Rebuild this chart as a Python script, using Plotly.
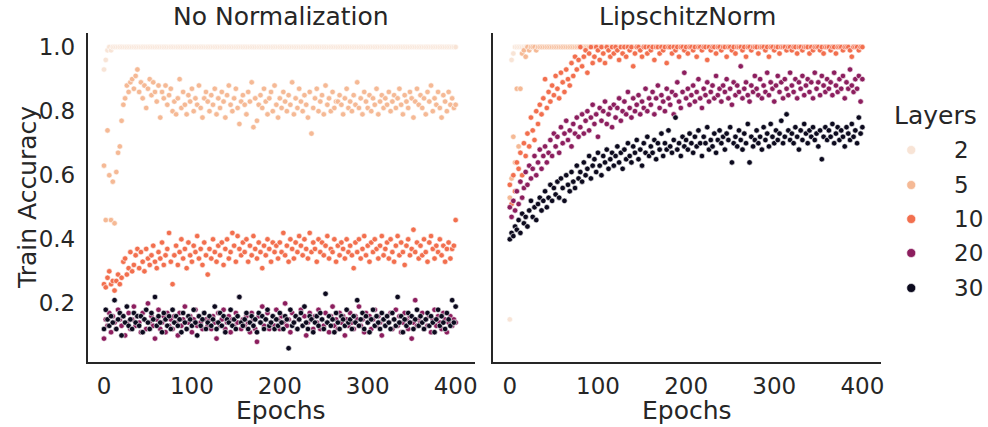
import plotly.graph_objects as go

# ---------------- data ----------------
epochs = list(range(0, 401, 2))
layers = [2, 5, 10, 20, 30]
layer_labels = ["2", "5", "10", "20", "30"]
panel_titles = ["No Normalization", "LipschitzNorm"]
x_ticks = [0, 100, 200, 300, 400]
y_ticks = [0.2, 0.4, 0.6, 0.8, 1.0]
y_tick_labels = ["0.2", "0.4", "0.6", "0.8", "1.0"]
colors = ["#f8e4d6", "#f5b995", "#f26f4e", "#8c1e5e", "#0c0a1e"]

nonorm_L2 = [
    0.93, 0.96, 0.99, 1.0, 0.99, 1.0, 1.0, 1.0, 1.0, 1.0, 1.0, 1.0, 1.0, 1.0, 1.0, 1.0, 1.0, 1.0, 1.0, 1.0,
    1.0, 1.0, 1.0, 1.0, 1.0, 1.0, 1.0, 1.0, 1.0, 1.0, 1.0, 1.0, 1.0, 1.0, 1.0, 1.0, 1.0, 1.0, 1.0, 1.0,
    1.0, 1.0, 1.0, 1.0, 1.0, 1.0, 1.0, 1.0, 1.0, 1.0, 1.0, 1.0, 1.0, 1.0, 1.0, 1.0, 1.0, 1.0, 1.0, 1.0,
    1.0, 1.0, 1.0, 1.0, 1.0, 1.0, 1.0, 1.0, 1.0, 1.0, 1.0, 1.0, 1.0, 1.0, 1.0, 1.0, 1.0, 1.0, 1.0, 1.0,
    1.0, 1.0, 1.0, 1.0, 1.0, 1.0, 1.0, 1.0, 1.0, 1.0, 1.0, 1.0, 1.0, 1.0, 1.0, 1.0, 1.0, 1.0, 1.0, 1.0,
    1.0, 1.0, 1.0, 1.0, 1.0, 1.0, 1.0, 1.0, 1.0, 1.0, 1.0, 1.0, 1.0, 1.0, 1.0, 1.0, 1.0, 1.0, 1.0, 1.0,
    1.0, 1.0, 1.0, 1.0, 1.0, 1.0, 1.0, 1.0, 1.0, 1.0, 1.0, 1.0, 1.0, 1.0, 1.0, 1.0, 1.0, 1.0, 1.0, 1.0,
    1.0, 1.0, 1.0, 1.0, 1.0, 1.0, 1.0, 1.0, 1.0, 1.0, 1.0, 1.0, 1.0, 1.0, 1.0, 1.0, 1.0, 1.0, 1.0, 1.0,
    1.0, 1.0, 1.0, 1.0, 1.0, 1.0, 1.0, 1.0, 1.0, 1.0, 1.0, 1.0, 1.0, 1.0, 1.0, 1.0, 1.0, 1.0, 1.0, 1.0,
    1.0, 1.0, 1.0, 1.0, 1.0, 1.0, 1.0, 1.0, 1.0, 1.0, 1.0, 1.0, 1.0, 1.0, 1.0, 1.0, 1.0, 1.0, 1.0, 1.0,
    1.0,
]
nonorm_L5 = [
    0.63, 0.46, 0.74, 0.60, 0.46, 0.58, 0.45, 0.61, 0.67, 0.69, 0.77, 0.82, 0.84, 0.88, 0.86, 0.89, 0.90, 0.87, 0.91, 0.93,
    0.86, 0.89, 0.84, 0.88, 0.81, 0.87, 0.90, 0.85, 0.89, 0.86, 0.83, 0.88, 0.78, 0.86, 0.84, 0.88, 0.82, 0.85, 0.87, 0.80,
    0.83, 0.79, 0.84, 0.90, 0.81, 0.86, 0.82, 0.79, 0.85, 0.83, 0.87, 0.80, 0.84, 0.82, 0.88, 0.81, 0.78, 0.84, 0.86, 0.83,
    0.80, 0.85, 0.82, 0.87, 0.79, 0.84, 0.81, 0.86, 0.83, 0.78, 0.85, 0.88, 0.82, 0.80, 0.84, 0.87, 0.81, 0.76, 0.83, 0.85,
    0.82, 0.79, 0.86, 0.83, 0.89, 0.75, 0.84, 0.77, 0.82, 0.85, 0.81, 0.87, 0.83, 0.79, 0.84, 0.86, 0.80, 0.88, 0.82, 0.78,
    0.84, 0.81, 0.86, 0.83, 0.80, 0.85, 0.82, 0.89, 0.79, 0.84, 0.81, 0.87, 0.83, 0.80, 0.85, 0.82, 0.78, 0.86, 0.73, 0.81,
    0.84, 0.87, 0.80, 0.83, 0.85, 0.79, 0.88, 0.82, 0.84, 0.80, 0.86, 0.81, 0.83, 0.83, 0.85, 0.82, 0.79, 0.84, 0.87, 0.81,
    0.83, 0.80, 0.85, 0.82, 0.89, 0.81, 0.84, 0.79, 0.86, 0.83, 0.81, 0.85, 0.80, 0.84, 0.82, 0.87, 0.79, 0.83, 0.85, 0.81,
    0.84, 0.82, 0.86, 0.80, 0.83, 0.85, 0.81, 0.84, 0.87, 0.82, 0.79, 0.85, 0.83, 0.81, 0.86, 0.84, 0.78, 0.83, 0.87, 0.82,
    0.85, 0.81, 0.84, 0.79, 0.86, 0.83, 0.88, 0.80, 0.84, 0.82, 0.86, 0.81, 0.78, 0.85, 0.83, 0.80, 0.86, 0.82, 0.84, 0.81,
    0.82,
]
nonorm_L10 = [
    0.26, 0.25, 0.28, 0.30, 0.26, 0.27, 0.24, 0.27, 0.29, 0.26, 0.28, 0.33, 0.34, 0.29, 0.31, 0.36, 0.30, 0.32, 0.35, 0.37,
    0.31, 0.36, 0.33, 0.30, 0.37, 0.34, 0.32, 0.35, 0.38, 0.33, 0.31, 0.36, 0.34, 0.39, 0.32, 0.35, 0.37, 0.42, 0.33, 0.26,
    0.35, 0.38, 0.32, 0.36, 0.40, 0.34, 0.37, 0.31, 0.39, 0.35, 0.33, 0.38, 0.36, 0.41, 0.34, 0.37, 0.32, 0.39, 0.35, 0.29,
    0.37, 0.34, 0.40, 0.36, 0.33, 0.38, 0.35, 0.39, 0.32, 0.37, 0.40, 0.34, 0.36, 0.42, 0.38, 0.33, 0.41, 0.37, 0.35, 0.39,
    0.36, 0.40, 0.33, 0.38, 0.35, 0.41, 0.37, 0.34, 0.39, 0.36, 0.31, 0.38, 0.35, 0.40, 0.37, 0.33, 0.39, 0.36, 0.38, 0.34,
    0.39, 0.36, 0.42, 0.35, 0.38, 0.33, 0.40, 0.37, 0.34, 0.39, 0.36, 0.41, 0.38, 0.35, 0.40, 0.37, 0.34, 0.42, 0.36, 0.39,
    0.37, 0.33, 0.40, 0.36, 0.39, 0.35, 0.38, 0.41, 0.34, 0.37, 0.36, 0.40, 0.33, 0.38, 0.35, 0.39, 0.37, 0.34, 0.40, 0.36,
    0.38, 0.35, 0.31, 0.39, 0.36, 0.40, 0.34, 0.37, 0.41, 0.35, 0.38, 0.33, 0.39, 0.36, 0.40, 0.37, 0.34, 0.38, 0.41, 0.35,
    0.37, 0.39, 0.34, 0.40, 0.36, 0.33, 0.38, 0.41, 0.35, 0.39, 0.36, 0.32, 0.38, 0.40, 0.35, 0.37, 0.43, 0.36, 0.39, 0.34,
    0.38, 0.35, 0.40, 0.36, 0.33, 0.39, 0.41, 0.37, 0.34, 0.38, 0.36, 0.40, 0.35, 0.38, 0.33, 0.37, 0.39, 0.34, 0.37, 0.38,
    0.46,
]
nonorm_L20 = [
    0.09, 0.15, 0.13, 0.17, 0.11, 0.16, 0.14, 0.12, 0.18, 0.15, 0.13, 0.16, 0.10, 0.14, 0.17, 0.12, 0.15, 0.19, 0.13, 0.16,
    0.14, 0.11, 0.17, 0.15, 0.12, 0.20, 0.14, 0.16, 0.13, 0.09, 0.15, 0.18, 0.12, 0.14, 0.16, 0.11, 0.17, 0.13, 0.15, 0.12,
    0.16, 0.14, 0.10, 0.17, 0.13, 0.15, 0.19, 0.12, 0.14, 0.16, 0.11, 0.15, 0.18, 0.13, 0.16, 0.14, 0.12, 0.17, 0.15, 0.13,
    0.15, 0.12, 0.16, 0.14, 0.09, 0.17, 0.13, 0.15, 0.18, 0.12, 0.14, 0.16, 0.11, 0.15, 0.13, 0.17, 0.14, 0.22, 0.12, 0.15,
    0.13, 0.16, 0.14, 0.11, 0.17, 0.15, 0.12, 0.08, 0.16, 0.14, 0.19, 0.13, 0.15, 0.17, 0.12, 0.14, 0.16, 0.13, 0.18, 0.15,
    0.12, 0.16, 0.14, 0.20, 0.13, 0.15, 0.11, 0.17, 0.14, 0.16, 0.12, 0.15, 0.18, 0.13, 0.16, 0.10, 0.14, 0.17, 0.15, 0.12,
    0.16, 0.14, 0.18, 0.12, 0.15, 0.13, 0.17, 0.14, 0.11, 0.16, 0.19, 0.13, 0.15, 0.12, 0.17, 0.14, 0.16, 0.10, 0.15, 0.13,
    0.17, 0.14, 0.12, 0.16, 0.15, 0.19, 0.13, 0.15, 0.11, 0.17, 0.14, 0.16, 0.12, 0.15, 0.18, 0.13, 0.16, 0.14, 0.10, 0.15,
    0.13, 0.16, 0.14, 0.17, 0.12, 0.15, 0.18, 0.13, 0.16, 0.11, 0.14, 0.17, 0.15, 0.12, 0.16, 0.09, 0.14, 0.21, 0.13, 0.15,
    0.14, 0.17, 0.12, 0.15, 0.13, 0.16, 0.11, 0.15, 0.18, 0.13, 0.16, 0.14, 0.12, 0.17, 0.15, 0.11, 0.14, 0.16, 0.13, 0.15,
    0.14,
]
nonorm_L30 = [
    0.12, 0.18, 0.15, 0.13, 0.16, 0.14, 0.21, 0.12, 0.15, 0.17, 0.10, 0.16, 0.14, 0.19, 0.13, 0.15, 0.12, 0.17, 0.14, 0.16,
    0.13, 0.16, 0.11, 0.15, 0.18, 0.14, 0.12, 0.17, 0.15, 0.22, 0.13, 0.16, 0.14, 0.11, 0.17, 0.15, 0.13, 0.16, 0.12, 0.18,
    0.14, 0.16, 0.13, 0.15, 0.11, 0.17, 0.14, 0.12, 0.16, 0.15, 0.13, 0.18, 0.14, 0.10, 0.16, 0.13, 0.15, 0.17, 0.12, 0.14,
    0.16, 0.13, 0.15, 0.19, 0.12, 0.14, 0.17, 0.13, 0.16, 0.11, 0.15, 0.14, 0.18, 0.13, 0.15, 0.12, 0.16, 0.22, 0.14, 0.13,
    0.15, 0.17, 0.12, 0.14, 0.16, 0.13, 0.15, 0.11, 0.17, 0.14, 0.16, 0.12, 0.15, 0.18, 0.13, 0.14, 0.16, 0.12, 0.15, 0.13,
    0.17, 0.14, 0.12, 0.16, 0.15, 0.06, 0.18, 0.13, 0.14, 0.16, 0.12, 0.15, 0.17, 0.13, 0.19, 0.14, 0.12, 0.16, 0.15, 0.11,
    0.14, 0.16, 0.13, 0.17, 0.15, 0.12, 0.23, 0.14, 0.16, 0.13, 0.15, 0.11, 0.17, 0.14, 0.12, 0.16, 0.15, 0.13, 0.18, 0.14,
    0.15, 0.12, 0.16, 0.14, 0.21, 0.13, 0.15, 0.17, 0.12, 0.16, 0.14, 0.11, 0.15, 0.18, 0.13, 0.16, 0.14, 0.12, 0.17, 0.15,
    0.13, 0.16, 0.14, 0.12, 0.17, 0.15, 0.13, 0.22, 0.14, 0.16, 0.11, 0.15, 0.13, 0.17, 0.14, 0.16, 0.12, 0.15, 0.18, 0.13,
    0.16, 0.14, 0.12, 0.15, 0.17, 0.13, 0.16, 0.14, 0.11, 0.15, 0.18, 0.13, 0.16, 0.14, 0.12, 0.17, 0.15, 0.13, 0.21, 0.14,
    0.19,
]

lip_L2 = [
    0.15, 0.96, 0.98, 1.0, 1.0, 1.0, 1.0, 1.0, 1.0, 1.0, 1.0, 1.0, 1.0, 1.0, 1.0, 1.0, 1.0, 1.0, 1.0, 1.0,
    1.0, 1.0, 1.0, 1.0, 1.0, 1.0, 1.0, 1.0, 1.0, 1.0, 1.0, 1.0, 1.0, 1.0, 1.0, 1.0, 1.0, 1.0, 1.0, 1.0,
    1.0, 1.0, 1.0, 1.0, 1.0, 1.0, 1.0, 1.0, 1.0, 1.0, 1.0, 1.0, 1.0, 1.0, 1.0, 1.0, 1.0, 1.0, 1.0, 1.0,
    1.0, 1.0, 1.0, 1.0, 1.0, 1.0, 1.0, 1.0, 1.0, 1.0, 1.0, 1.0, 1.0, 1.0, 1.0, 1.0, 1.0, 1.0, 1.0, 1.0,
    1.0, 1.0, 1.0, 1.0, 1.0, 1.0, 1.0, 1.0, 1.0, 1.0, 1.0, 1.0, 1.0, 1.0, 1.0, 1.0, 1.0, 1.0, 1.0, 1.0,
    1.0, 1.0, 1.0, 1.0, 1.0, 1.0, 1.0, 1.0, 1.0, 1.0, 1.0, 1.0, 1.0, 1.0, 1.0, 1.0, 1.0, 1.0, 1.0, 1.0,
    1.0, 1.0, 1.0, 1.0, 1.0, 1.0, 1.0, 1.0, 1.0, 1.0, 1.0, 1.0, 1.0, 1.0, 1.0, 1.0, 1.0, 1.0, 1.0, 1.0,
    1.0, 1.0, 1.0, 1.0, 1.0, 1.0, 1.0, 1.0, 1.0, 1.0, 1.0, 1.0, 1.0, 1.0, 1.0, 1.0, 1.0, 1.0, 1.0, 1.0,
    1.0, 1.0, 1.0, 1.0, 1.0, 1.0, 1.0, 1.0, 1.0, 1.0, 1.0, 1.0, 1.0, 1.0, 1.0, 1.0, 1.0, 1.0, 1.0, 1.0,
    1.0, 1.0, 1.0, 1.0, 1.0, 1.0, 1.0, 1.0, 1.0, 1.0, 1.0, 1.0, 1.0, 1.0, 1.0, 1.0, 1.0, 1.0, 1.0, 1.0,
    1.0,
]
lip_L5 = [
    0.53, 0.59, 0.72, 0.64, 0.87, 0.69, 0.87, 0.98, 0.99, 0.97, 1.0, 0.99, 1.0, 1.0, 1.0, 0.99, 1.0, 1.0, 1.0, 1.0,
    1.0, 1.0, 1.0, 1.0, 1.0, 1.0, 1.0, 1.0, 1.0, 1.0, 1.0, 1.0, 1.0, 1.0, 1.0, 1.0, 1.0, 1.0, 1.0, 1.0,
    1.0, 1.0, 1.0, 1.0, 1.0, 1.0, 1.0, 1.0, 1.0, 1.0, 1.0, 1.0, 1.0, 1.0, 1.0, 1.0, 1.0, 1.0, 1.0, 1.0,
    1.0, 1.0, 1.0, 1.0, 1.0, 1.0, 1.0, 1.0, 1.0, 1.0, 1.0, 1.0, 1.0, 1.0, 1.0, 1.0, 1.0, 1.0, 1.0, 1.0,
    1.0, 1.0, 1.0, 1.0, 1.0, 1.0, 1.0, 1.0, 1.0, 1.0, 1.0, 1.0, 1.0, 1.0, 1.0, 1.0, 1.0, 1.0, 1.0, 1.0,
    1.0, 1.0, 1.0, 1.0, 1.0, 1.0, 1.0, 1.0, 1.0, 1.0, 1.0, 1.0, 1.0, 1.0, 1.0, 1.0, 1.0, 1.0, 1.0, 1.0,
    1.0, 1.0, 1.0, 1.0, 1.0, 1.0, 1.0, 1.0, 1.0, 1.0, 1.0, 1.0, 1.0, 1.0, 1.0, 1.0, 1.0, 1.0, 1.0, 1.0,
    1.0, 1.0, 1.0, 1.0, 1.0, 1.0, 1.0, 1.0, 1.0, 1.0, 1.0, 1.0, 1.0, 1.0, 1.0, 1.0, 1.0, 1.0, 1.0, 1.0,
    1.0, 1.0, 1.0, 1.0, 1.0, 1.0, 1.0, 1.0, 1.0, 1.0, 1.0, 1.0, 1.0, 1.0, 1.0, 1.0, 1.0, 1.0, 1.0, 1.0,
    1.0, 1.0, 1.0, 1.0, 1.0, 1.0, 1.0, 1.0, 1.0, 1.0, 1.0, 1.0, 1.0, 1.0, 1.0, 1.0, 1.0, 1.0, 1.0, 1.0,
    1.0,
]
lip_L10 = [
    0.57, 0.51, 0.60, 0.55, 0.64, 0.62, 0.67, 0.60, 0.70, 0.66, 0.73, 0.69, 0.78, 0.74, 0.71, 0.80, 0.76, 0.82, 0.79, 0.84,
    0.90, 0.81, 0.86, 0.83, 0.88, 0.85, 0.91, 0.87, 0.84, 0.92, 0.89, 0.86, 0.93, 0.90, 0.88, 0.95, 0.91, 0.97, 0.93, 0.96,
    1.00, 0.94, 0.97, 0.99, 0.92, 0.98, 1.00, 0.95, 0.97, 1.00, 0.99, 0.96, 1.00, 0.98, 0.95, 1.00, 0.99, 0.97, 1.00, 0.98,
    1.00, 0.99, 0.96, 1.00, 0.98, 1.00, 0.97, 1.00, 0.99, 1.00, 0.94, 0.98, 1.00, 1.00, 0.99, 0.97, 1.00, 1.00, 0.98, 1.00,
    0.99, 1.00, 0.96, 1.00, 1.00, 0.98, 1.00, 0.99, 1.00, 0.95, 1.00, 1.00, 0.98, 1.00, 0.99, 1.00, 0.97, 1.00, 1.00, 0.99,
    1.00, 0.98, 1.00, 1.00, 0.99, 1.00, 0.97, 1.00, 1.00, 0.99, 1.00, 1.00, 0.96, 1.00, 0.99, 1.00, 1.00, 0.98, 1.00, 1.00,
    0.99, 1.00, 1.00, 0.97, 1.00, 1.00, 0.99, 1.00, 0.98, 1.00, 1.00, 1.00, 0.99, 1.00, 0.97, 1.00, 1.00, 0.99, 1.00, 1.00,
    1.00, 0.98, 1.00, 1.00, 1.00, 0.99, 1.00, 0.97, 1.00, 1.00, 0.99, 1.00, 1.00, 0.98, 1.00, 1.00, 1.00, 0.99, 1.00, 1.00,
    0.99, 1.00, 1.00, 0.98, 1.00, 1.00, 0.99, 1.00, 1.00, 1.00, 0.98, 1.00, 0.99, 1.00, 1.00, 1.00, 0.99, 1.00, 0.98, 1.00,
    1.00, 1.00, 0.99, 1.00, 1.00, 0.98, 1.00, 1.00, 1.00, 0.99, 1.00, 1.00, 1.00, 0.99, 0.97, 1.00, 1.00, 1.00, 0.99, 1.00,
    1.00,
]
lip_L20 = [
    0.50, 0.47, 0.52, 0.49, 0.55, 0.51, 0.58, 0.53, 0.56, 0.61, 0.57, 0.63, 0.59, 0.62, 0.66, 0.60, 0.64, 0.68, 0.62, 0.66,
    0.69, 0.64, 0.67, 0.71, 0.66, 0.73, 0.69, 0.72, 0.67, 0.75, 0.70, 0.73, 0.77, 0.71, 0.74, 0.69, 0.76, 0.73, 0.78, 0.72,
    0.75, 0.79, 0.73, 0.77, 0.80, 0.74, 0.78, 0.82, 0.76, 0.79, 0.72, 0.81, 0.77, 0.80, 0.83, 0.76, 0.79, 0.81, 0.75, 0.82,
    0.78, 0.81, 0.84, 0.77, 0.80, 0.83, 0.79, 0.86, 0.81, 0.78, 0.84, 0.80, 0.82, 0.85, 0.79, 0.83, 0.81, 0.87, 0.80, 0.84,
    0.82, 0.86, 0.79, 0.84, 0.88, 0.81, 0.85, 0.83, 0.80, 0.87, 0.84, 0.82, 0.86, 0.79, 0.85, 0.89, 0.83, 0.81, 0.86, 0.92,
    0.84, 0.87, 0.82, 0.85, 0.88, 0.83, 0.86, 0.90, 0.84, 0.81, 0.87, 0.85, 0.89, 0.83, 0.86, 0.88, 0.84, 0.91, 0.85, 0.87,
    0.83, 0.88, 0.86, 0.90, 0.84, 0.87, 0.82, 0.89, 0.85, 0.88, 0.86, 0.94, 0.84, 0.87, 0.89, 0.85, 0.83, 0.88, 0.86, 0.91,
    0.87, 0.85, 0.90, 0.84, 0.88, 0.86, 0.92, 0.85, 0.89, 0.87, 0.83, 0.88, 0.91, 0.86, 0.89, 0.84, 0.90, 0.87, 0.85, 0.92,
    0.88, 0.86, 0.90, 0.84, 0.89, 0.87, 0.91, 0.85, 0.88, 0.90, 0.86, 0.89, 0.84, 0.92, 0.87, 0.89, 0.85, 0.91, 0.88, 0.86,
    0.90, 0.87, 0.89, 0.85, 0.92, 0.88, 0.86, 0.90, 0.87, 0.91, 0.84, 0.89, 0.87, 0.93, 0.88, 0.86, 0.90, 0.87, 0.91, 0.83,
    0.90,
]
lip_L30 = [
    0.40, 0.42, 0.41, 0.44, 0.43, 0.46, 0.42, 0.48, 0.45, 0.47, 0.44, 0.49, 0.52, 0.47, 0.50, 0.46, 0.51, 0.53, 0.49, 0.52,
    0.55, 0.50, 0.53, 0.57, 0.52, 0.56, 0.54, 0.58, 0.53, 0.59, 0.56, 0.52, 0.60, 0.57, 0.55, 0.61, 0.58, 0.56, 0.63, 0.59,
    0.61, 0.58, 0.64, 0.60, 0.62, 0.66, 0.59, 0.63, 0.65, 0.61, 0.67, 0.63, 0.60, 0.66, 0.64, 0.68, 0.62, 0.65, 0.67, 0.63,
    0.66, 0.69, 0.64, 0.67, 0.62, 0.68, 0.65, 0.70, 0.66, 0.64, 0.69, 0.67, 0.71, 0.65, 0.68, 0.63, 0.70, 0.67, 0.72, 0.66,
    0.69, 0.67, 0.71, 0.65, 0.70, 0.68, 0.73, 0.66, 0.70, 0.68, 0.74, 0.69, 0.67, 0.71, 0.78, 0.68, 0.70, 0.66, 0.72, 0.69,
    0.71, 0.68, 0.73, 0.70, 0.67, 0.72, 0.69, 0.74, 0.70, 0.66, 0.72, 0.70, 0.75, 0.68, 0.71, 0.69, 0.73, 0.67, 0.71, 0.74,
    0.70, 0.72, 0.68, 0.73, 0.71, 0.75, 0.64, 0.70, 0.72, 0.69, 0.74, 0.71, 0.68, 0.73, 0.70, 0.76, 0.64, 0.72, 0.69, 0.71,
    0.74, 0.70, 0.72, 0.68, 0.75, 0.71, 0.73, 0.69, 0.76, 0.72, 0.70, 0.74, 0.71, 0.73, 0.77, 0.70, 0.72, 0.79, 0.74, 0.71,
    0.73, 0.70, 0.75, 0.72, 0.68, 0.74, 0.71, 0.76, 0.73, 0.70, 0.74, 0.72, 0.75, 0.71, 0.73, 0.69, 0.74, 0.65, 0.72, 0.75,
    0.71, 0.74, 0.72, 0.76, 0.70, 0.73, 0.75, 0.71, 0.74, 0.72, 0.69, 0.75, 0.73, 0.71, 0.76, 0.72, 0.74, 0.70, 0.78, 0.73,
    0.75,
]

panels = [
    [nonorm_L2, nonorm_L5, nonorm_L10, nonorm_L20, nonorm_L30],
    [lip_L2, lip_L5, lip_L10, lip_L20, lip_L30],
]

# ---------------- figure ----------------
W, H = 988, 427
TXT = "#262626"
FONT = "DejaVu Sans"

def px_x(p):
    return p / W

def px_y(p):
    return 1 - p / H

fig = go.Figure()
for pi, series in enumerate(panels):
    xa = "x" if pi == 0 else "x2"
    ya = "y" if pi == 0 else "y2"
    for li, vals in enumerate(series):
        fig.add_trace(go.Scatter(
            x=epochs, y=vals, mode="markers", xaxis=xa, yaxis=ya,
            name=layer_labels[li], showlegend=False,
            marker=dict(size=5.5, color=colors[li], line=dict(color="white", width=0.6)),
        ))

x_range = [-18.5, 421.5]
y_range = [0.017, 1.044]
y_dom = [px_y(362), px_y(33)]

axis_common = dict(
    showgrid=False, zeroline=False, showline=True, linecolor=TXT, linewidth=1.8,
    ticks="", tickfont=dict(family=FONT, size=23, color=TXT), mirror=False,
)

fig.update_layout(
    width=W, height=H, margin=dict(l=0, r=0, t=0, b=0),
    paper_bgcolor="white", plot_bgcolor="white",
    font=dict(family=FONT, color=TXT),
    xaxis=dict(domain=[px_x(88), px_x(476)], range=x_range, tickvals=x_ticks,
               ticklabelstandoff=2, anchor="y", **axis_common),
    xaxis2=dict(domain=[px_x(495), px_x(884)], range=x_range, tickvals=x_ticks,
                ticklabelstandoff=2, anchor="y2", **axis_common),
    yaxis=dict(domain=y_dom, range=y_range, tickvals=y_ticks, ticktext=y_tick_labels,
               ticklabelstandoff=6, anchor="x", **axis_common),
    yaxis2=dict(domain=y_dom, range=y_range, tickvals=y_ticks, showticklabels=False,
                anchor="x2", **axis_common),
)

ann = []
for title, cx in zip(panel_titles, [(88 + 476) / 2, (495 + 884) / 2]):
    ann.append(dict(text=title, x=px_x(cx), y=px_y(16), xref="paper", yref="paper",
                    xanchor="center", yanchor="middle", showarrow=False,
                    font=dict(family=FONT, size=25, color=TXT)))
    ann.append(dict(text="Epochs", x=px_x(cx), y=px_y(410), xref="paper", yref="paper",
                    xanchor="center", yanchor="middle", showarrow=False,
                    font=dict(family=FONT, size=25, color=TXT)))
ann.append(dict(text="Train Accuracy", x=px_x(27), y=px_y(197), xref="paper", yref="paper",
                xanchor="center", yanchor="middle", showarrow=False, textangle=-90,
                font=dict(family=FONT, size=25, color=TXT)))

# legend (drawn manually to match seaborn layout)
ann.append(dict(text="Layers", x=px_x(938), y=px_y(115), xref="paper", yref="paper",
                xanchor="center", yanchor="middle", showarrow=False,
                font=dict(family=FONT, size=25, color=TXT)))
shapes = []
leg_y = [150, 185, 219, 253, 288]
for li, lab in enumerate(layer_labels):
    ann.append(dict(text=lab, x=px_x(955), y=px_y(leg_y[li]), xref="paper", yref="paper",
                    xanchor="left", yanchor="middle", showarrow=False,
                    font=dict(family=FONT, size=23, color=TXT)))
    shapes.append(dict(type="circle", xref="paper", yref="paper",
                       xsizemode="pixel", ysizemode="pixel",
                       xanchor=px_x(914), yanchor=px_y(leg_y[li]),
                       x0=-4.5, x1=4.5, y0=-4.5, y1=4.5,
                       fillcolor=colors[li], line=dict(color="white", width=0.6)))

fig.update_layout(annotations=ann, shapes=shapes)
fig.write_html(
    "out.html",
    config={"displayModeBar": False},
    post_script="document.body.style.margin='0';document.body.style.overflow='hidden';",
)
